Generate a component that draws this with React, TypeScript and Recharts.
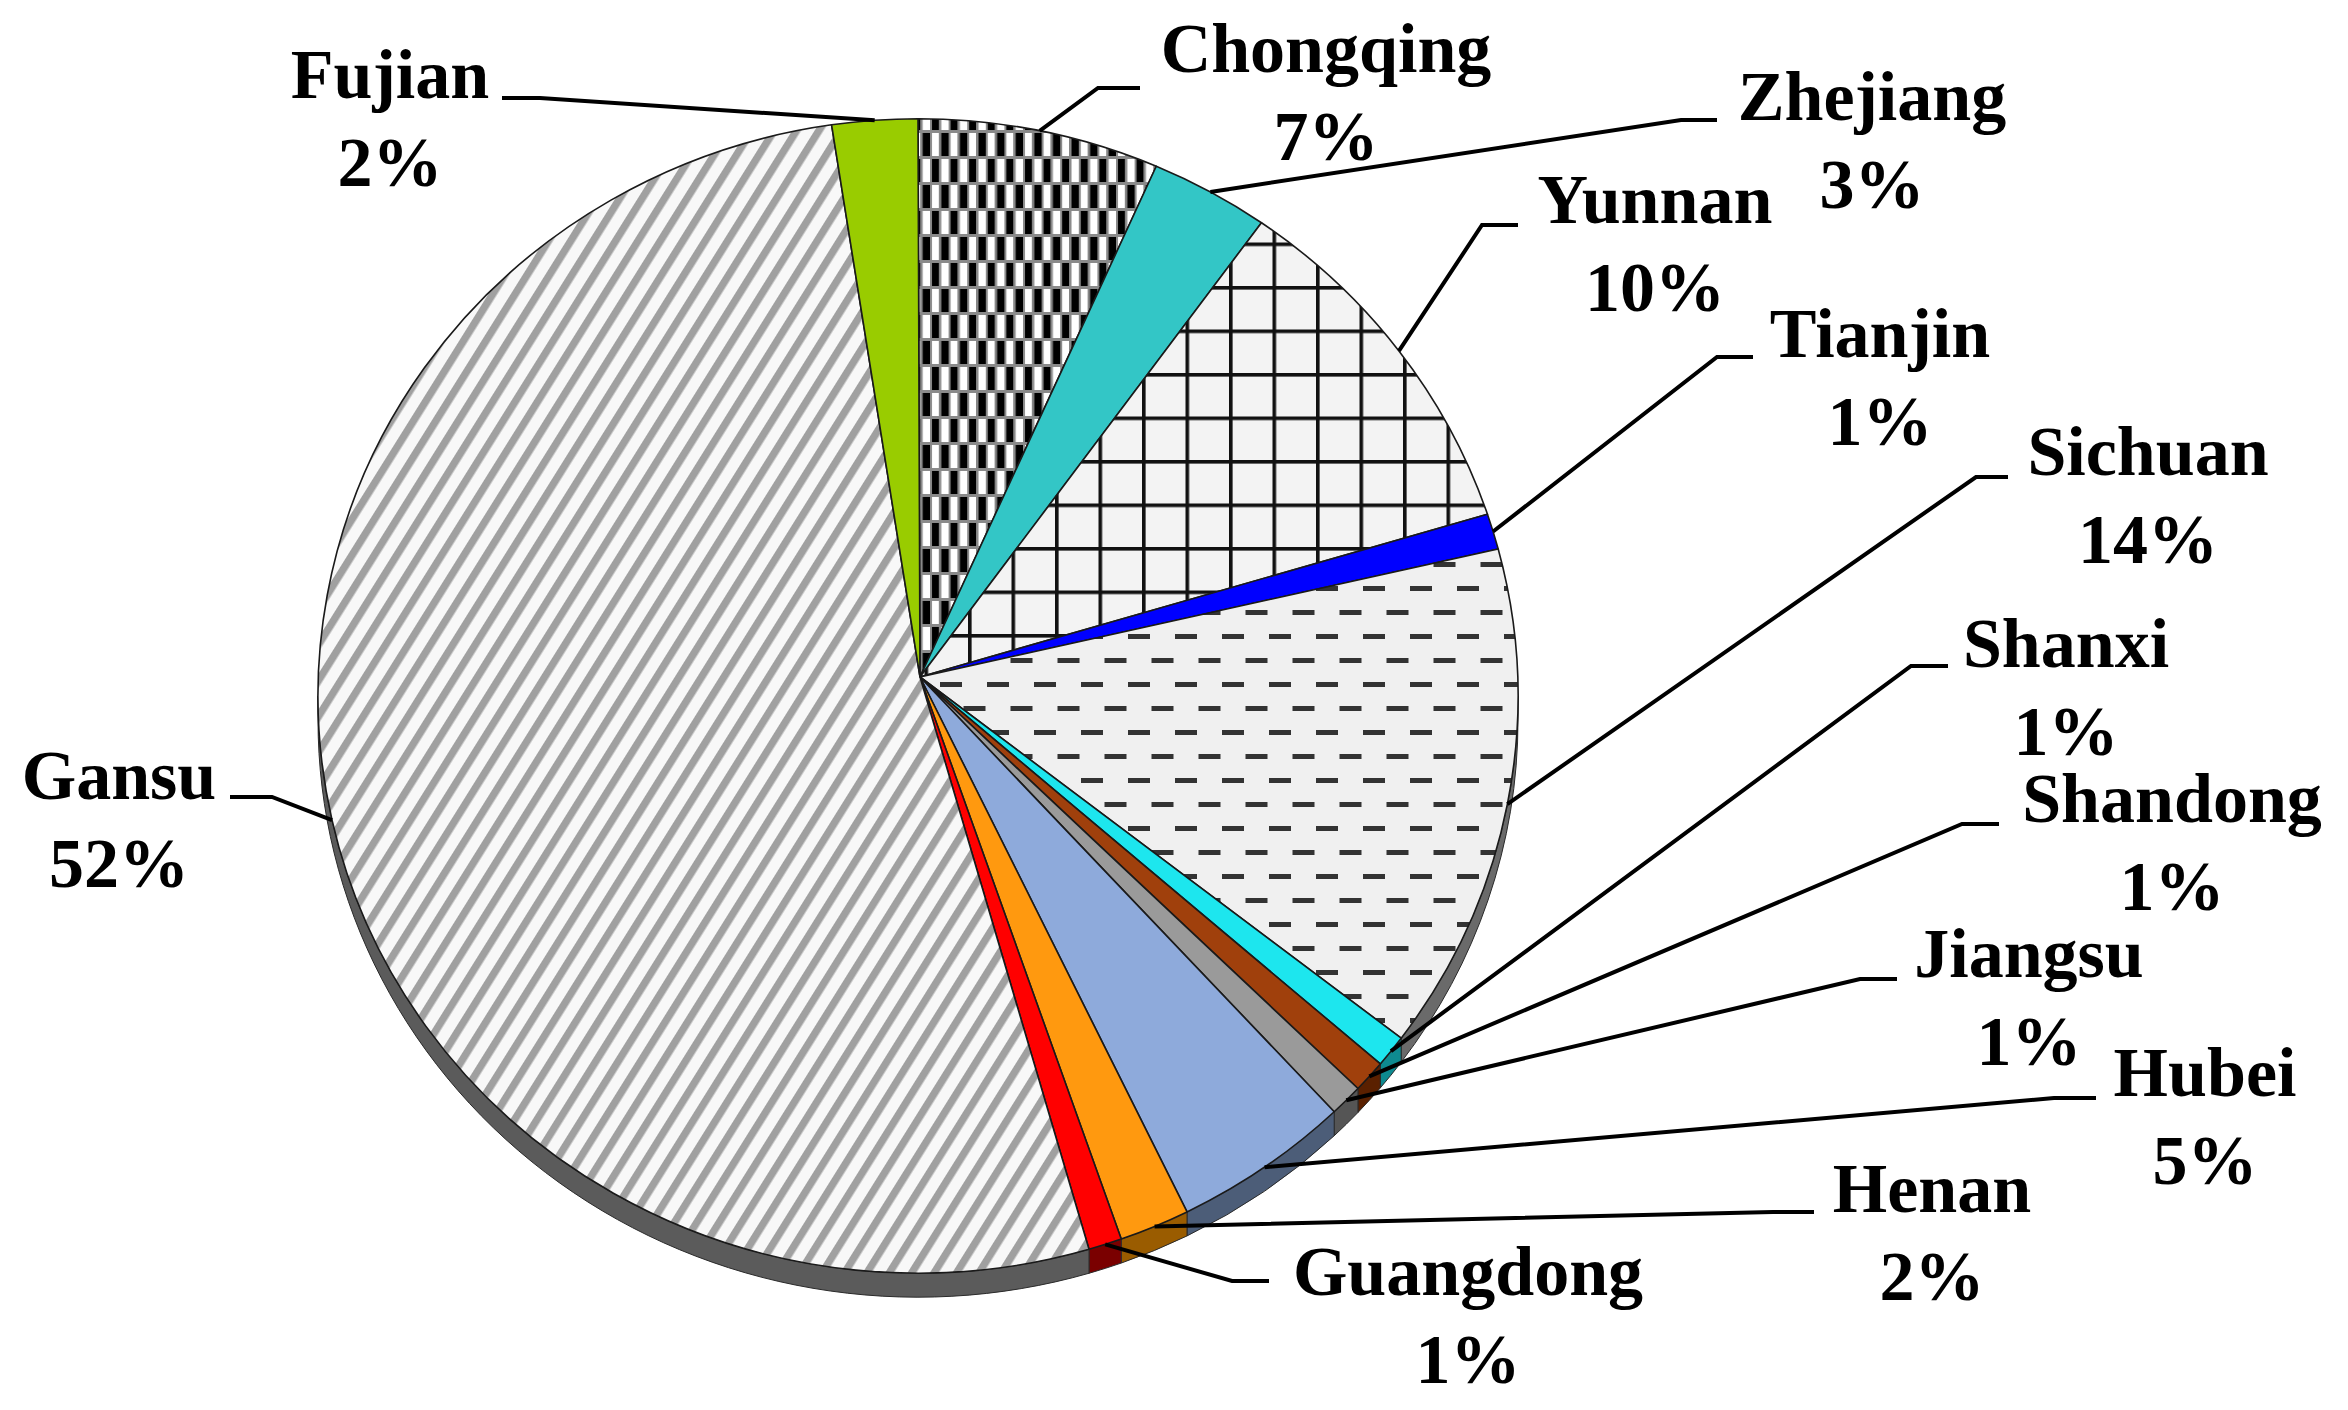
import React from 'react';
import { PieChart, Pie, Cell } from 'recharts';

// slice order runs clockwise from 12 o'clock
const PROVINCES = ['Chongqing', 'Zhejiang', 'Yunnan', 'Tianjin', 'Sichuan', 'Shanxi', 'Shandong', 'Jiangsu', 'Hubei', 'Henan', 'Guangdong', 'Gansu', 'Fujian'];
const SHARES = [6.5, 3.2, 10.2, 1.0, 14.2, 0.9, 0.9, 0.9, 4.8, 1.9, 0.9, 52.3, 2.3];

const FILLS = ['url(#pat-check)', '#33c6c6', 'url(#pat-grid)', '#0000ff', 'url(#pat-dash)', '#1de6ee', '#a0400c', '#9a9a9a', '#8eaadb', '#ff990f', '#ff0000', 'url(#pat-stripe)', '#99cc00'];
const WALLS = ['#333', '#1f7a7a', '#555', '#000099', '#6a6a6a', '#0e8a90', '#5a2000', '#555555', '#4c5d78', '#9a5c00', '#7a0000', '#5b5b5b', '#5c7a00'];

// label placement: [centre x, name baseline, elbow x, elbow y, tail x]
const LABEL_LAYOUT: number[][] = [
  [1326, 72, 1098, 88, 1140],
  [1872, 120, 1681, 120, 1717],
  [1655, 223, 1482, 225, 1518],
  [1880, 357, 1717, 357, 1753],
  [2148, 475, 1976, 477, 2008],
  [2066, 667, 1911, 666, 1948],
  [2172, 822, 1962, 824, 1999],
  [2029, 977, 1860, 979, 1897],
  [2205, 1096, 2054, 1098, 2096],
  [1932, 1212, 1773, 1212, 1814],
  [1468, 1295, 1232, 1281, 1269],
  [119, 799, 272, 797, 230],
  [390, 98, 540, 98, 502],
];

const data = PROVINCES.map((name, i) => ({ name, value: SHARES[i] }));

// tilted (perspective) pie: rim ellipse sits a bit below the apex
const ELL_DX = -2;
const ELL_DY = 19;
const RY_RATIO = 0.962;
const DEPTH = 24;

const rim = (cx: number, cy: number, r: number, deg: number, dy = 0) => {
  const rad = (deg * Math.PI) / 180;
  return [cx + ELL_DX + r * Math.cos(rad), cy + ELL_DY + dy - r * RY_RATIO * Math.sin(rad)];
};

const nameIndex = (props: any) => {
  const n = props.payload?.name ?? props.name;
  const i = PROVINCES.indexOf(n);
  return i >= 0 ? i : props.index ?? 0;
};

const EllipseSector = (props: any) => {
  const { cx, cy, outerRadius: r, startAngle: s, endAngle: e, fill } = props;
  const i = nameIndex(props);
  const ry = r * RY_RATIO;
  const [x1, y1] = rim(cx, cy, r, s);
  const [x2, y2] = rim(cx, cy, r, e);
  const large = Math.abs(s - e) > 180 ? 1 : 0;
  const top = `M${cx},${cy} L${x1},${y1} A${r},${ry} 0 ${large} 1 ${x2},${y2} Z`;

  // side wall for the part of the slice in the lower half
  const a = Math.min(s, 0);
  const b = Math.max(e, -180);
  let wall = null;
  if (a > b) {
    const [wx1, wy1] = rim(cx, cy, r, a);
    const [wx2, wy2] = rim(cx, cy, r, b);
    const [wx3, wy3] = rim(cx, cy, r, b, DEPTH);
    const [wx4, wy4] = rim(cx, cy, r, a, DEPTH);
    wall = (
      <path
        d={`M${wx1},${wy1} A${r},${ry} 0 0 1 ${wx2},${wy2} L${wx3},${wy3} A${r},${ry} 0 0 0 ${wx4},${wy4} Z`}
        fill={WALLS[i]}
        stroke="#2a2a2a"
        strokeWidth={1}
      />
    );
  }
  return (
    <g>
      {wall}
      <path d={top} fill={fill} stroke="#1a1a1a" strokeWidth={1.6} strokeLinejoin="round" />
    </g>
  );
};

const renderLabel = (props: any) => {
  const { cx, cy, outerRadius } = props;
  const i = nameIndex(props);
  const mid = props.midAngle ?? (props.startAngle + props.endAngle) / 2;
  const [x, y, ex, ey, tx] = LABEL_LAYOUT[i];
  const [px, py] = rim(cx, cy, outerRadius, mid);
  const textStyle = { fontFamily: '"Liberation Serif", "Times New Roman", serif', fontWeight: 700, fontSize: 70 };
  return (
    <g key={`lbl-${i}`}>
      <polyline points={`${px},${py} ${ex},${ey} ${tx},${ey}`} fill="none" stroke="#000" strokeWidth={4} />
      <text x={x} y={y} textAnchor="middle" fill="#000" style={textStyle}>
        {PROVINCES[i]}
      </text>
      <text x={x} y={y + 88} textAnchor="middle" fill="#000" style={textStyle}>
        {`${Math.round(SHARES[i])}%`}
      </text>
    </g>
  );
};

const Patterns = () => (
  <svg width={0} height={0} style={{ position: 'absolute' }}>
    <defs>
      <pattern id="pat-stripe" patternUnits="userSpaceOnUse" width={19} height={20} patternTransform="rotate(32)">
        <rect width={19} height={20} fill="#f8f8f8" />
        <rect width={7.5} height={20} fill="#a0a0a0" />
      </pattern>
      <pattern id="pat-check" patternUnits="userSpaceOnUse" width={18.6} height={52}>
        <rect width={18.6} height={52} fill="#ffffff" />
        <rect x={0} y={0} width={9.3} height={26} fill="#000" />
        <rect x={9.3} y={26} width={9.3} height={26} fill="#000" />
        <rect x={0} y={0} width={2} height={52} fill="#8a8a8a" />
        <rect x={9.3} y={0} width={2} height={52} fill="#8a8a8a" />
        <rect x={0} y={0} width={18.6} height={3} fill="#8a8a8a" />
        <rect x={0} y={26} width={18.6} height={3} fill="#8a8a8a" />
      </pattern>
      <pattern id="pat-grid" patternUnits="userSpaceOnUse" x={11} y={25} width={43.5} height={43.5}>
        <rect width={43.5} height={43.5} fill="#f3f3f3" />
        <rect width={3.6} height={43.5} fill="#111" />
        <rect width={43.5} height={3.6} fill="#111" />
      </pattern>
      <pattern id="pat-dash" patternUnits="userSpaceOnUse" width={47} height={48}>
        <rect width={47} height={48} fill="#f0f0f0" />
        <rect x={0} y={10} width={22} height={5} fill="#333" />
        <rect x={23.5} y={34} width={22} height={5} fill="#333" />
      </pattern>
    </defs>
  </svg>
);

export default function App() {
  return (
    <div style={{ position: 'absolute', left: 0, top: 0, width: 2348, height: 1410, background: '#fff' }}>
      <Patterns />
      <PieChart width={2348} height={1410} margin={{ top: 0, right: 0, bottom: 0, left: 0 }}>
        <Pie
          data={data}
          dataKey="value"
          nameKey="name"
          cx={920}
          cy={677}
          outerRadius={600}
          startAngle={90}
          endAngle={-270}
          isAnimationActive={false}
          shape={EllipseSector}
          label={renderLabel}
          labelLine={false}
          stroke="none"
        >
          {data.map((d, i) => (
            <Cell key={d.name} fill={FILLS[i]} />
          ))}
        </Pie>
      </PieChart>
    </div>
  );
}
